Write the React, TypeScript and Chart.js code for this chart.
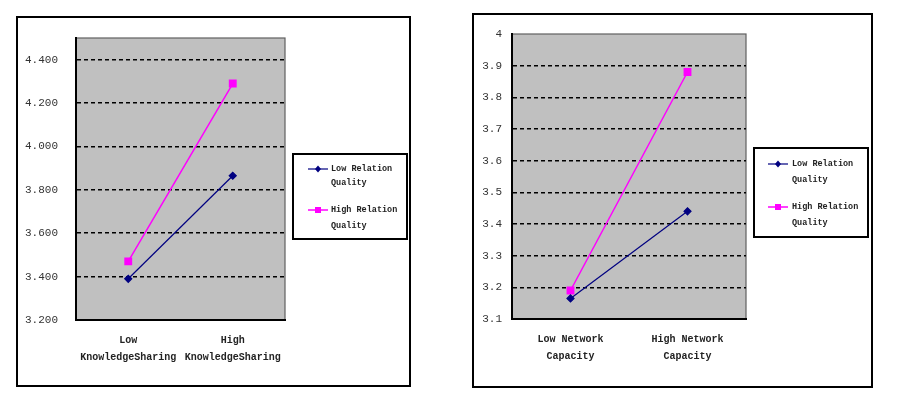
import React, { useEffect, useRef } from 'react';
import { Chart, registerables } from 'chart.js';

Chart.register(...registerables);

// ---------- data ----------
const seriesNames = ['Low Relation Quality', 'High Relation Quality'];
const seriesColors = ['#000080', '#FF00FF'];

const ksCategories = [
  ['Low', 'KnowledgeSharing'],
  ['High', 'KnowledgeSharing'],
];
const ksLowRelation = [3.39, 3.865];
const ksHighRelation = [3.47, 4.29];
const ksTickValues = [3.2, 3.4, 3.6, 3.8, 4.0, 4.2, 4.4];
const ksTickLabels = ['3.200', '3.400', '3.600', '3.800', '4.000', '4.200', '4.400'];

const ncCategories = [
  ['Low Network', 'Capacity'],
  ['High Network', 'Capacity'],
];
const ncLowRelation = [3.165, 3.44];
const ncHighRelation = [3.19, 3.88];
const ncTickValues = [3.1, 3.2, 3.3, 3.4, 3.5, 3.6, 3.7, 3.8, 3.9, 4.0];
const ncTickLabels = ['3.1', '3.2', '3.3', '3.4', '3.5', '3.6', '3.7', '3.8', '3.9', '4'];

// ---------- plugins ----------
const plotBg = {
  id: 'plotBg',
  beforeDraw(chart: any) {
    const { ctx, chartArea: a } = chart;
    ctx.save();
    ctx.fillStyle = '#C0C0C0';
    ctx.fillRect(a.left, a.top, a.right - a.left, a.bottom - a.top);
    ctx.strokeStyle = '#606060';
    ctx.lineWidth = 1.2;
    ctx.strokeRect(a.left, a.top, a.right - a.left, a.bottom - a.top);
    ctx.restore();
  },
};

const boxLegend = {
  id: 'boxLegend',
  afterDraw(chart: any, _args: any, opts: any) {
    const { ctx } = chart;
    const { x, y, w, h, lineX0, lineX1, textX, rows } = opts;
    ctx.save();
    ctx.fillStyle = '#FFFFFF';
    ctx.fillRect(x, y, w, h);
    ctx.strokeStyle = '#000000';
    ctx.lineWidth = 2;
    ctx.strokeRect(x, y, w, h);
    ctx.font = 'bold 8.5px "Liberation Mono", monospace';
    ctx.textBaseline = 'middle';
    ctx.textAlign = 'left';
    chart.data.datasets.forEach((ds: any, i: number) => {
      const label: string = ds.label;
      const cut = label.lastIndexOf(' ');
      const lines = [label.slice(0, cut), label.slice(cut + 1)];
      const ry = y + rows[i][0];
      ctx.strokeStyle = ds.borderColor;
      ctx.lineWidth = ds.borderWidth;
      ctx.beginPath();
      ctx.moveTo(x + lineX0, ry);
      ctx.lineTo(x + lineX1, ry);
      ctx.stroke();
      ctx.fillStyle = ds.pointBackgroundColor;
      const mx = x + (lineX0 + lineX1) / 2;
      if (ds.pointStyle === 'rect') {
        ctx.fillRect(mx - 3, ry - 3, 6, 6);
      } else {
        ctx.beginPath();
        ctx.moveTo(mx, ry - 3.5);
        ctx.lineTo(mx + 3, ry);
        ctx.lineTo(mx, ry + 3.5);
        ctx.lineTo(mx - 3, ry);
        ctx.closePath();
        ctx.fill();
      }
      ctx.fillStyle = '#222222';
      ctx.fillText(lines[0], x + textX, ry);
      ctx.fillText(lines[1], x + textX, y + rows[i][1]);
    });
    ctx.restore();
  },
};

function makeConfig(p: any) {
  const near = (a: number, b: number) => Math.abs(a - b) < 1e-6;
  return {
    type: 'line',
    data: {
      labels: p.categories,
      datasets: [
        {
          label: seriesNames[0],
          data: p.low,
          borderColor: seriesColors[0],
          backgroundColor: seriesColors[0],
          pointBackgroundColor: seriesColors[0],
          pointBorderColor: seriesColors[0],
          borderWidth: 1.2,
          pointStyle: 'rectRot',
          pointRadius: 3.5,
          tension: 0,
        },
        {
          label: seriesNames[1],
          data: p.high,
          borderColor: seriesColors[1],
          backgroundColor: seriesColors[1],
          pointBackgroundColor: seriesColors[1],
          pointBorderColor: seriesColors[1],
          borderWidth: 1.5,
          pointStyle: 'rect',
          pointRadius: 4.5,
          tension: 0,
        },
      ],
    },
    options: {
      animation: false,
      responsive: false,
      devicePixelRatio: 1,
      layout: { padding: { left: 0, top: p.padTop, right: p.padRight, bottom: 0 } },
      plugins: {
        legend: { display: false },
        tooltip: { enabled: false },
        boxLegend: p.legend,
      },
      scales: {
        x: {
          type: 'category',
          offset: true,
          grid: { display: false, drawTicks: false },
          border: { display: true, color: '#000000', width: 2 },
          ticks: {
            padding: 11.5,
            color: '#222222',
            maxRotation: 0,
            autoSkip: false,
            font: { family: '"Liberation Mono", monospace', size: 10, weight: 'bold', lineHeight: 1.7 },
          },
          afterFit: (s: any) => {
            s.height = p.xHeight;
            s.paddingLeft = 0;
            s.paddingRight = 0;
          },
        },
        y: {
          type: 'linear',
          min: p.min,
          max: p.max,
          afterBuildTicks: (axis: any) => {
            axis.ticks = p.tickValues.map((v: number) => ({ value: v }));
          },
          afterFit: (s: any) => {
            s.width = p.yWidth;
            s.paddingTop = 0;
            s.paddingBottom = 0;
          },
          grid: {
            drawTicks: false,
            color: (c: any) =>
              c.tick && (near(c.tick.value, p.min) || near(c.tick.value, p.max)) ? 'rgba(0,0,0,0)' : '#000000',
            lineWidth: 1.5,
          },
          border: { display: true, color: '#000000', width: 2, dash: [4, 3] },
          ticks: {
            padding: p.yPad,
            color: '#333333',
            font: { family: '"Liberation Mono", monospace', size: 11 },
            callback: (v: any) => {
              const i = p.tickValues.findIndex((t: number) => near(t, Number(v)));
              return i >= 0 ? p.tickLabels[i] : '';
            },
          },
        },
      },
    },
    plugins: [plotBg, boxLegend],
  };
}

function Panel(props: { frame: any; canvas: any; cfg: any }) {
  const ref = useRef<HTMLCanvasElement | null>(null);
  useEffect(() => {
    if (!ref.current) return;
    const chart = new Chart(ref.current, makeConfig(props.cfg) as any);
    return () => chart.destroy();
  }, []);
  const f = props.frame;
  const c = props.canvas;
  return (
    <>
      <div
        style={{
          position: 'absolute',
          left: f.x,
          top: f.y,
          width: f.w,
          height: f.h,
          border: '2px solid #000',
          boxSizing: 'border-box',
          background: '#fff',
        }}
      />
      <canvas
        ref={ref}
        width={c.w}
        height={c.h}
        style={{ position: 'absolute', left: c.x, top: c.y, width: c.w, height: c.h }}
      />
    </>
  );
}

export default function App() {
  const leftCfg = {
    categories: ksCategories,
    low: ksLowRelation,
    high: ksHighRelation,
    tickValues: ksTickValues,
    tickLabels: ksTickLabels,
    min: 3.2,
    max: 4.5,
    padTop: 20,
    padRight: 124,
    yWidth: 58,
    xHeight: 64,
    yPad: 18,
    legend: { x: 275, y: 136, w: 114, h: 85, lineX0: 15, lineX1: 35, textX: 38, rows: [[15, 29], [56, 72]] },
  };
  const rightCfg = {
    categories: ncCategories,
    low: ncLowRelation,
    high: ncHighRelation,
    tickValues: ncTickValues,
    tickLabels: ncTickLabels,
    min: 3.1,
    max: 4.0,
    padTop: 19,
    padRight: 125,
    yWidth: 38,
    xHeight: 67,
    yPad: 10,
    legend: { x: 280, y: 133, w: 114, h: 89, lineX0: 14, lineX1: 34, textX: 38, rows: [[16, 32], [59, 75]] },
  };
  return (
    <div style={{ position: 'absolute', left: 0, top: 0, width: 903, height: 394, background: '#fff' }}>
      <Panel frame={{ x: 16, y: 16, w: 395, h: 371 }} canvas={{ x: 18, y: 18, w: 391, h: 366 }} cfg={leftCfg} />
      <Panel frame={{ x: 472, y: 13, w: 401, h: 375 }} canvas={{ x: 474, y: 15, w: 397, h: 371 }} cfg={rightCfg} />
    </div>
  );
}
